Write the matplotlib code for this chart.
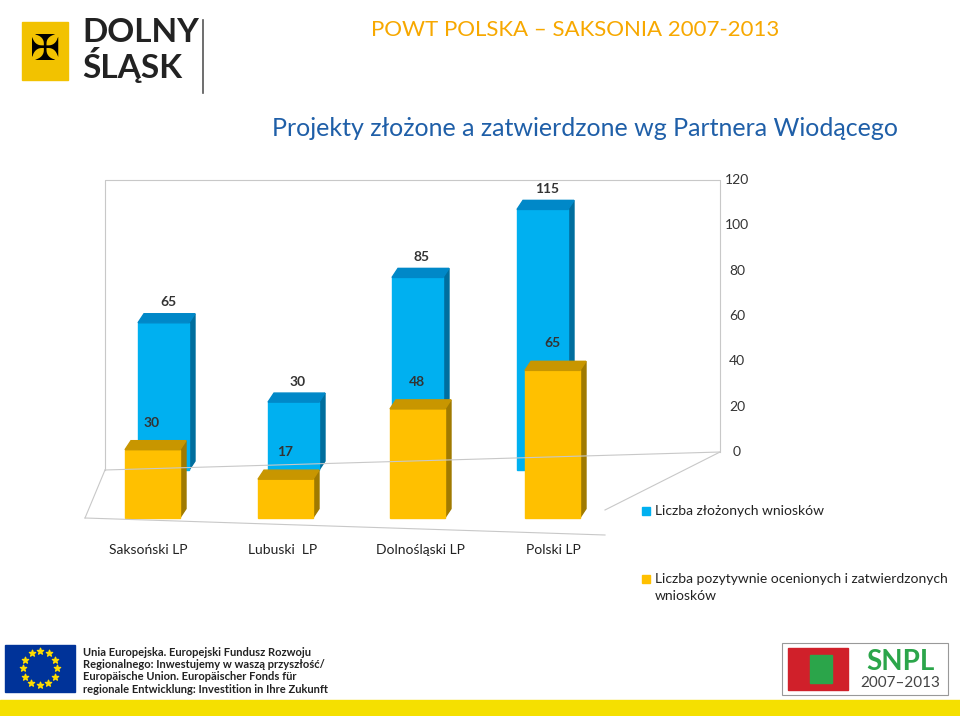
import matplotlib
matplotlib.use("Agg")
import matplotlib.pyplot as plt
from matplotlib.patches import Polygon, Rectangle
import numpy as np

plt.rcParams["font.family"] = "Lato"

categories = ["Saksoński LP", "Lubuski  LP", "Dolnośląski LP", "Polski LP"]
submitted = [65, 30, 85, 115]
approved = [30, 17, 48, 65]
yticks = [0, 20, 40, 60, 80, 100, 120]

blue, blue_side, blue_top = "#00B0F0", "#006E9E", "#0088C8"
yel, yel_side, yel_top = "#FFC000", "#A07A00", "#C89600"

W, H = 960, 716
fig = plt.figure(figsize=(9.6, 7.16), dpi=100)
ax = fig.add_axes([0, 0, 1, 1])
ax.set_xlim(0, W)
# vertical: data units, 0 at pixel row 452, 2.267 px per unit
S = 2.267
ax.set_ylim((452 - H) / S, 452 / S)
ax.axis("off")

def py(v):
    return (452 - v) / S

# back wall and floor
lc = "#C8C8C8"
ax.plot([105, 105, 720, 720], [py(470), py(180), py(180), py(452)], color=lc, lw=0.8)
ax.plot([105, 720], [py(470), py(452)], color=lc, lw=0.8)
ax.plot([105, 85], [py(470), py(518)], color=lc, lw=0.8)
ax.plot([720, 605], [py(452), py(510)], color=lc, lw=0.8)
ax.plot([85, 605], [py(518), py(535)], color=lc, lw=0.8)
for t in yticks:
    ax.text(737, t, str(t), ha="center", va="center", fontsize=10, color="#333333")

def bar3d(x0, w, bottom, h, c, cs, ct, dx=6, dy=4):
    ax.add_patch(Polygon([(x0 + w, bottom), (x0 + w + dx, bottom + dy),
                          (x0 + w + dx, bottom + h + dy), (x0 + w, bottom + h)], color=cs))
    ax.add_patch(Rectangle((x0, bottom), w, h, color=c))
    ax.add_patch(Polygon([(x0, bottom + h), (x0 + dx, bottom + h + dy),
                          (x0 + w + dx, bottom + h + dy), (x0 + w, bottom + h)], color=ct))

blue_x = [138, 268, 392, 517]
yel_x = [125, 258, 390, 525]
for i in range(len(categories)):
    bar3d(blue_x[i], 51, -8, submitted[i], blue, blue_side, blue_top)
    ax.text(blue_x[i] + 30, -8 + submitted[i] + 9, str(submitted[i]), ha="center",
            va="center", fontsize=10, fontweight="bold", color="#333333")
for i in range(len(categories)):
    bar3d(yel_x[i], 55, -29, approved[i], yel, yel_side, yel_top)
    ax.text(yel_x[i] + 27, -29 + approved[i] + 12, str(approved[i]), ha="center",
            va="center", fontsize=10, fontweight="bold", color="#333333")

cat_x = [148, 283, 420, 553]
for x, c in zip(cat_x, categories):
    ax.text(x, py(550), c, ha="center", va="center", fontsize=10, color="#222222")

# legend
ax.add_patch(Rectangle((642, py(515)), 8, 8 / S, color=blue))
ax.text(655, py(511), "Liczba złożonych wniosków", va="center", fontsize=10, color="#222222")
ax.add_patch(Rectangle((642, py(583)), 8, 8 / S, color=yel))
ax.text(655, py(579), "Liczba pozytywnie ocenionych i zatwierdzonych", va="center",
        fontsize=10, color="#222222")
ax.text(655, py(596), "wniosków", va="center", fontsize=10, color="#222222")

# header
ax.add_patch(Rectangle((22, py(80)), 46, 58 / S, color="#F2C200"))
ax.text(22 + 23, py(50), "✠", ha="center", va="center", fontsize=26, color="black",
        family="DejaVu Sans")
ax.text(82, py(33), "DOLNY", va="center", fontsize=24, fontweight="bold", color="#222222")
ax.text(82, py(65), "ŚLĄSK", va="center", fontsize=24, fontweight="bold", color="#222222")
ax.plot([203, 203], [py(20), py(93)], color="#555555", lw=1.2)
ax.text(575, py(30), "POWT POLSKA – SAKSONIA 2007-2013", ha="center", va="center",
        fontsize=16, color="#F7A800")
ax.text(585, py(128), "Projekty złożone a zatwierdzone wg Partnera Wiodącego", ha="center",
        va="center", fontsize=18, color="#1F5FA8")

# footer
ax.add_patch(Rectangle((5, py(692)), 70, 47 / S, color="#003399"))
ang = np.linspace(0, 2 * np.pi, 13)[:-1]
ax.scatter(40 + 17 * np.cos(ang), py(668) + 17 / S * np.sin(ang), marker="*", s=22,
           color="#FFDD00", zorder=5)
foot = ["Unia Europejska. Europejski Fundusz Rozwoju",
        "Regionalnego: Inwestujemy w waszą przyszłość/",
        "Europäische Union. Europäischer Fonds für",
        "regionale Entwicklung: Investition in Ihre Zukunft"]
for k, s in enumerate(foot):
    ax.text(83, py(652 + k * 12.5), s, va="center", fontsize=8, fontweight="bold", color="#222222")
ax.add_patch(Rectangle((0, py(716)), W, 16 / S, color="#F5E000"))
ax.add_patch(Rectangle((782, py(695)), 166, 52 / S, facecolor="white", edgecolor="#999999", lw=0.8))
ax.add_patch(Rectangle((788, py(690)), 60, 42 / S, color="#D0202A"))
ax.add_patch(Rectangle((810, py(683)), 22, 28 / S, color="#2BA54A"))
ax.text(900, py(662), "SNPL", ha="center", va="center", fontsize=20, fontweight="bold",
        color="#2BA54A")
ax.text(900, py(683), "2007–2013", ha="center", va="center", fontsize=11, color="#444444")

fig.savefig("out.png", dpi=100)
